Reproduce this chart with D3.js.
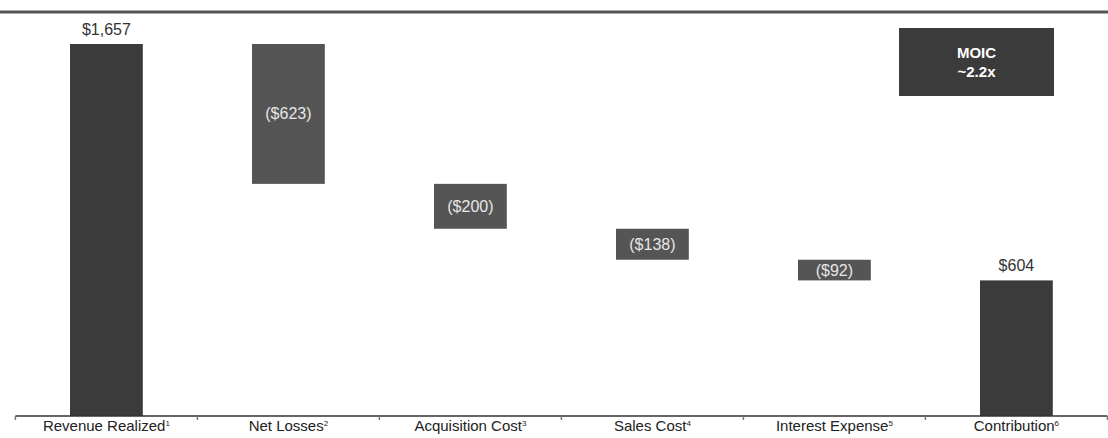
<!DOCTYPE html>
<html><head><meta charset="utf-8">
<script src="https://cdn.jsdelivr.net/npm/d3@7"></script>
<style>body{margin:0;background:#fff;}svg{display:block;font-family:"Liberation Sans",Arial,sans-serif;}</style>
</head><body><svg id="c" width="1108" height="438"></svg>
<script>
const categories = ["Revenue Realized", "Net Losses", "Acquisition Cost", "Sales Cost", "Interest Expense", "Contribution"];
const footnotes = ["1", "2", "3", "4", "5", "6"];
const values = [1657, -623, -200, -138, -92, 604];
const kinds = ["total", "delta", "delta", "delta", "delta", "total"];
const valueLabels = ["$1,657", "($623)", "($200)", "($138)", "($92)", "$604"];
const moicLines = ["MOIC", "~2.2x"];

const svg = d3.select("#c");
const W = 1108, H = 438;
const x = d3.scaleBand().domain(categories).range([15.4, 1107.4]).paddingInner(0.6).paddingOuter(0.3);
const y = d3.scaleLinear().domain([0, 1657]).range([416, 44]);

// top rule
svg.append("line").attr("x1", 0).attr("x2", W).attr("y1", 12).attr("y2", 12)
  .attr("stroke", "#555").attr("stroke-width", 3);

// compute waterfall
let run = 0;
const rows = categories.map((c, i) => {
  let y0, y1;
  if (kinds[i] === "total") { y0 = 0; y1 = values[i]; run = values[i]; }
  else { y0 = run + values[i]; y1 = run; run = y0; }
  return {c, i, y0, y1, kind: kinds[i], label: valueLabels[i]};
});

svg.selectAll("rect.bar").data(rows).join("rect").attr("class", "bar")
  .attr("x", d => x(d.c)).attr("width", x.bandwidth())
  .attr("y", d => y(d.y1)).attr("height", d => y(d.y0) - y(d.y1))
  .attr("fill", d => d.kind === "total" ? "#3b3b3b" : "#555555");

svg.selectAll("text.val").data(rows).join("text").attr("class", "val")
  .attr("x", d => x(d.c) + x.bandwidth() / 2)
  .attr("y", d => d.kind === "total" ? y(d.y1) - 9 : (y(d.y0) + y(d.y1)) / 2 + 5.5)
  .attr("text-anchor", "middle").attr("font-size", 16)
  .attr("fill", d => d.kind === "total" ? "#333" : "#e6e6e6")
  .text(d => d.label);

// axis
const axis = svg.append("g").attr("transform", "translate(0,416)");
const tickPos = categories.map(c => x(c) + x.bandwidth() / 2 - x.step() / 2);
tickPos.push(x(categories[categories.length - 1]) + x.bandwidth() / 2 + x.step() / 2);
axis.append("line").attr("x1", tickPos[0]).attr("x2", tickPos[tickPos.length - 1]).attr("stroke", "#333").attr("stroke-width", 1.5);
axis.selectAll("line.tk").data(tickPos).join("line").attr("class", "tk")
  .attr("x1", d => d).attr("x2", d => d).attr("y1", 0).attr("y2", 4)
  .attr("stroke", "#777").attr("stroke-width", 1.5);
const lbl = axis.selectAll("text.cat").data(categories).join("text").attr("class", "cat")
  .attr("x", d => x(d) + x.bandwidth() / 2).attr("y", 15)
  .attr("text-anchor", "middle").attr("font-size", 15).attr("fill", "#222");
lbl.append("tspan").text(d => d);
lbl.append("tspan").attr("font-size", 8).attr("dy", -5).text((d, i) => footnotes[i]);

// MOIC box
const bx = 899, bw = 155;
svg.append("rect").attr("x", bx).attr("y", 28).attr("width", bw).attr("height", 68).attr("fill", "#3b3b3b");
svg.selectAll("text.moic").data(moicLines).join("text").attr("class", "moic")
  .attr("x", bx + bw / 2).attr("y", (d, i) => 58 + i * 18.5)
  .attr("text-anchor", "middle").attr("font-size", 15).attr("font-weight", "bold").attr("fill", "#fff")
  .text(d => d);
</script></body></html>
